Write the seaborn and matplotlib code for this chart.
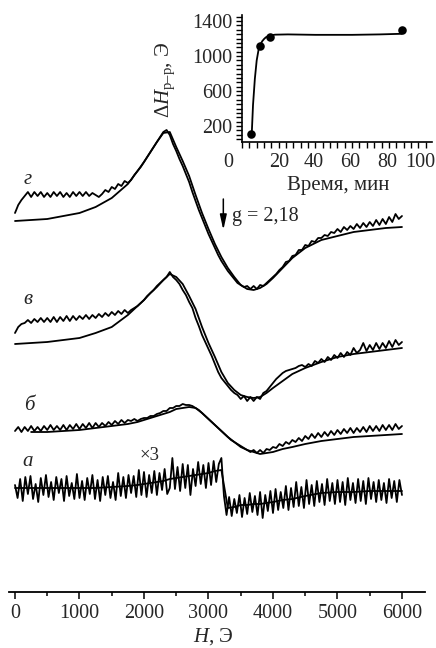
import numpy as np
import matplotlib
matplotlib.use("Agg")
import matplotlib.pyplot as plt
from matplotlib.ticker import MultipleLocator
import seaborn as sns

# --- data ---
# main panel: field H (Oe) vs signal (arbitrary units, spectra stacked by offset)
H_FIT = [0, 250, 500, 750, 1000, 1250, 1500, 1750, 1900, 2000,
         2100, 2200, 2300, 2400, 2500, 2600, 2700, 2800, 2900, 3000,
         3100, 3200, 3300, 3400, 3500, 3600, 3700, 3800, 3900, 4000,
         4150, 4300, 4500, 4750, 5000, 5250, 5500, 5750, 6000]

# fitted (smooth) curves
fit_g = [371, 372, 373, 376, 379, 385, 394, 408, 421, 430,
         440, 450, 459, 460, 445, 431, 416, 397, 379, 363,
         348, 335, 324, 315, 307, 303, 302, 304, 308, 314,
         324, 334, 344, 352, 356, 360, 362, 364, 365]
fit_v = [248, 249, 250, 252, 254, 259, 265, 277, 286, 292,
         299, 305, 312, 318, 315, 308, 296, 283, 265, 249,
         235, 220, 209, 202, 197, 195, 194, 195, 199, 204,
         211, 218, 224, 230, 235, 238, 240, 242, 244]
fit_b = [np.nan, 160, 160, 161, 162, 164, 166, 168, 170, 172,
         174, 176, 178, 180, 183, 184, 185, 184, 179, 173,
         167, 161, 155, 150, 145, 142, 140, 138, 139, 140,
         143, 145, 148, 151, 153, 155, 156, 157, 158]
fit_a = [104, 104, 104, 104, 104, 104, 105, 106, 107, 108,
         109, 110, 111, 113, 114, 115, 116, 117, 118, 119,
         121, 122, 84, 85, 87, 87, 88, 88, 89, 90,
         92, 93, 96, 99, 100, 100, 101, 101, 101]

# experimental traces, sampled evenly over 0..6000 Oe
exp_g = [379, 387, 392, 396, 400, 395, 400, 396, 400, 395,
         399, 395, 400, 396, 400, 395, 399, 395, 400, 396,
         400, 396, 400, 396, 399, 397, 395, 398, 402, 400,
         405, 403, 408, 406, 411, 409, 412, 417, 421, 425,
         430, 435, 440, 445, 450, 455, 460, 462, 457, 448,
         441, 433, 426, 418, 410, 400, 391, 382, 374, 366,
         358, 351, 344, 337, 331, 326, 321, 317, 313, 309,
         307, 305, 306, 303, 306, 303, 307, 306, 309, 312,
         315, 318, 322, 325, 330, 331, 336, 337, 342, 342,
         347, 346, 351, 350, 354, 354, 357, 356, 360, 359,
         363, 360, 365, 362, 366, 363, 368, 364, 369, 365,
         370, 366, 372, 367, 373, 368, 375, 370, 378, 373,
         376]
exp_v = [259, 265, 268, 269, 272, 269, 273, 270, 274, 270,
         274, 270, 275, 270, 275, 271, 276, 271, 276, 272,
         276, 273, 277, 273, 277, 274, 278, 275, 279, 276,
         280, 277, 281, 278, 282, 279, 282, 284, 286, 289,
         292, 296, 299, 302, 306, 309, 312, 315, 320, 315,
         312, 308, 302, 297, 290, 284, 274, 266, 257, 250,
         243, 236, 228, 220, 214, 210, 206, 202, 199, 197,
         193, 196, 191, 195, 191, 195, 193, 199, 201, 205,
         209, 213, 216, 219, 221, 222, 223, 224, 226, 227,
         225, 228, 226, 231, 229, 233, 230, 235, 232, 237,
         234, 239, 235, 240, 237, 244, 239, 242, 249, 241,
         247, 242, 249, 243, 249, 244, 251, 245, 252, 247,
         250]
exp_b = [161, 165, 160, 165, 161, 166, 161, 165, 161, 166,
         162, 167, 162, 166, 162, 167, 162, 167, 163, 168,
         163, 168, 164, 169, 164, 169, 165, 169, 166, 170,
         167, 171, 168, 172, 169, 172, 171, 173, 171, 173,
         174, 174, 176, 176, 178, 179, 181, 181, 184, 184,
         186, 186, 188, 187, 187, 186, 184, 182, 179, 176,
         173, 170, 167, 164, 161, 158, 155, 152, 150, 148,
         146, 144, 142, 140, 142, 139, 142, 139, 143, 142,
         145, 144, 148, 146, 150, 148, 152, 150, 154, 151,
         156, 153, 158, 154, 159, 155, 160, 156, 161, 157,
         162, 158, 163, 159, 164, 159, 164, 160, 165, 160,
         166, 161, 166, 161, 167, 162, 167, 162, 168, 163,
         166]
exp_a = [107, 94, 113, 91, 115, 98, 116, 93, 108, 90,
         114, 97, 117, 95, 110, 92, 115, 99, 113, 91,
         116, 96, 109, 93, 118, 94, 111, 92, 114, 98,
         117, 93, 112, 91, 115, 97, 116, 94, 110, 92,
         119, 96, 115, 94, 117, 99, 116, 95, 122, 97,
         120, 95, 117, 99, 121, 97, 119, 102, 123, 98,
         104, 134, 103, 125, 101, 128, 104, 127, 97, 123,
         106, 130, 108, 127, 104, 129, 107, 131, 110, 128,
         134, 96, 77, 95, 76, 93, 79, 97, 75, 94,
         78, 99, 80, 96, 77, 100, 74, 97, 81, 101,
         79, 103, 82, 100, 84, 106, 82, 104, 85, 110,
         86, 105, 84, 112, 88, 107, 86, 111, 90, 108,
         87, 113, 91, 109, 88, 112, 90, 110, 87, 114,
         92, 109, 89, 113, 91, 111, 88, 114, 93, 110,
         90, 112, 92, 109, 89, 113, 94, 111, 90, 112,
         97]

# inset: linewidth vs time
time_min = [5, 10, 15, 87]
dH_pp = [105, 1115, 1220, 1295]
time_fit = [5.3, 6, 7, 8, 9, 10, 11, 12, 13, 15, 18, 25, 40, 60, 75, 87]
dH_fit = [105, 440, 740, 950, 1070, 1130, 1170, 1195, 1215, 1235, 1245,
          1248, 1243, 1243, 1248, 1255]

main_xticks = [0, 1000, 2000, 3000, 4000, 5000, 6000]
inset_xlabels = ["0", "20", "40", "60", "80", "100"]
inset_xlabel_pos = [-7.5, 20, 39, 59, 79, 97]
inset_yticks = [200, 600, 1000, 1400]

# --- style ---
sns.set_style("ticks")
plt.rcParams["font.family"] = ["Liberation Serif", "DejaVu Serif"]
plt.rcParams["mathtext.fontset"] = "custom"
plt.rcParams["mathtext.rm"] = "Liberation Serif"
plt.rcParams["mathtext.it"] = "Liberation Serif:italic"

FS = 14.5
LW = 1.3

fig = plt.figure(figsize=(4.36, 6.48), dpi=100)
ax = fig.add_axes([9 / 436, 56 / 648, 416 / 436, 592 / 648])
ax.patch.set_alpha(0)


def trace(axis, x, y):
    sns.lineplot(x=x, y=y, ax=axis, color="black", lw=LW,
                 estimator=None, sort=False, legend=False)


for fit in (fit_g, fit_v, fit_b, fit_a):
    trace(ax, H_FIT, fit)
for exp in (exp_g, exp_v, exp_b, exp_a):
    trace(ax, np.linspace(0, 6000, len(exp)), exp)

ax.set_xlim(-93, 6357)
ax.set_ylim(0, 592)
sns.despine(ax=ax, left=True)
ax.set_yticks([])
ax.set_xticks(main_xticks)
ax.xaxis.set_minor_locator(MultipleLocator(500))
ax.tick_params(axis="x", which="major", length=5, width=1.1,
               labelsize=FS, pad=4, direction="out", color="black")
ax.tick_params(axis="x", which="minor", length=3, width=1.1,
               direction="out", color="black")
ax.spines["bottom"].set_linewidth(1.3)
ax.spines["bottom"].set_color("black")
ax.set_xlabel(r"$\mathit{H}$, Э", fontsize=15)
ax.xaxis.set_label_coords(0.49, -0.058)
ax.set_ylabel("")

# curve labels
for lab, hx, yy in [("г", 200, 412), ("в", 200, 292), ("б", 217, 187), ("а", 200, 131)]:
    ax.text(hx, yy, lab, fontsize=15, style="italic", ha="center", va="center")
ax.text(2093, 136, "×3", fontsize=13.5, ha="center", va="center")

# g-factor marker
ax.annotate("", xy=(3230, 362), xytext=(3230, 393),
            arrowprops=dict(arrowstyle="-|>,head_length=0.9,head_width=0.2",
                            color="black", lw=1.1, mutation_scale=10,
                            shrinkA=0, shrinkB=0))
ax.text(3364, 371, "g = 2,18", fontsize=FS, ha="left", va="baseline")

# --- inset ---
axi = fig.add_axes([242 / 436, 1 - 142 / 648, 190 / 436, 127 / 648])
axi.patch.set_alpha(0)
sns.lineplot(x=time_fit, y=dH_fit, ax=axi, color="black", lw=LW,
             estimator=None, sort=False, legend=False)
sns.scatterplot(x=time_min, y=dH_pp, ax=axi, color="black", s=38,
                edgecolor="black", linewidth=0, zorder=3, legend=False)
axi.set_xlim(0, 103.5)
axi.set_ylim(17, 1470)
sns.despine(ax=axi)
for sp in ("left", "bottom"):
    axi.spines[sp].set_linewidth(1.2)
    axi.spines[sp].set_color("black")

axi.set_xticks(np.arange(0, 101, 4))
axi.tick_params(axis="x", which="both", length=4, width=1, labelbottom=False,
                direction="out", color="black")
for pos, lab in zip(inset_xlabel_pos, inset_xlabels):
    axi.text(pos, -0.165, lab, transform=axi.get_xaxis_transform(),
             ha="center", va="center", fontsize=FS)

axi.set_yticks(inset_yticks)
axi.yaxis.set_minor_locator(MultipleLocator(50))
axi.tick_params(axis="y", which="both", length=4, width=1, labelsize=FS,
                pad=3, direction="out", color="black")

axi.set_xlabel("Время, мин", fontsize=15)
axi.xaxis.set_label_coords(0.505, -0.27)
axi.set_ylabel(r"$\Delta\mathit{H}_{\mathrm{p–p}}$, Э", fontsize=15)
axi.yaxis.set_label_coords(-0.34, 0.49)

fig.savefig("out.png", dpi=100)
